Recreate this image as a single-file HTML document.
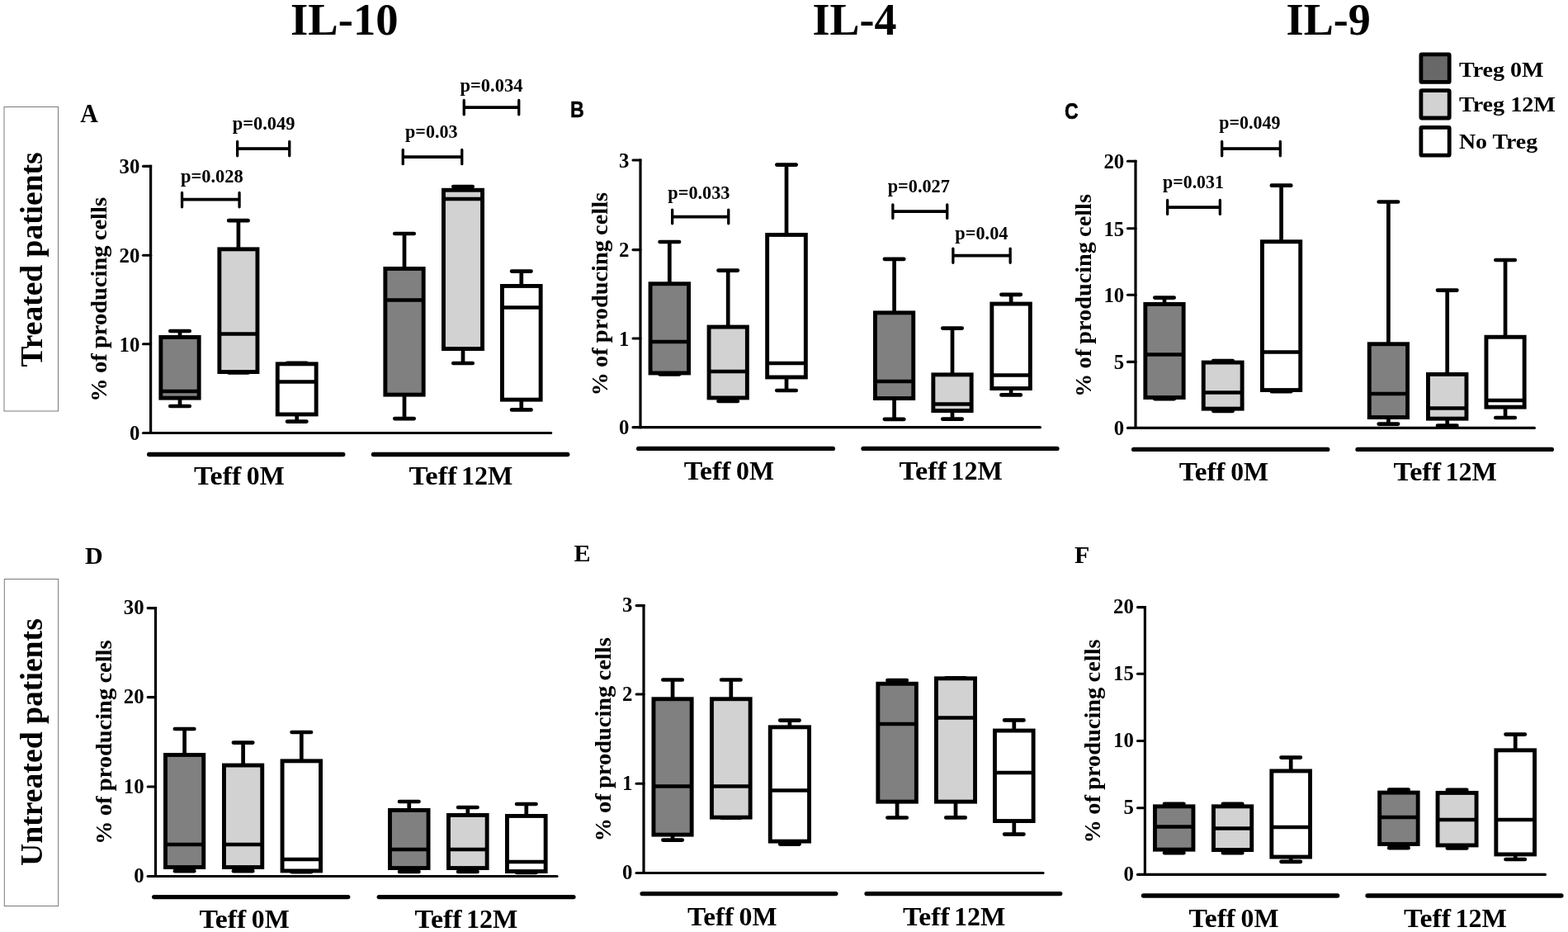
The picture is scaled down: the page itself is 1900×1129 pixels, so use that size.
<!DOCTYPE html>
<html lang="en"><head><meta charset="utf-8"><title>Cytokine producing cells - boxplots</title>
<style>
html,body{margin:0;padding:0;background:#fff;}
body{width:1900px;height:1129px;overflow:hidden;}
svg{display:block;}
.s{font-family:"Liberation Serif", "DejaVu Serif", serif;font-weight:bold;fill:#000;}
.tl{font-family:"Liberation Serif", "DejaVu Serif", serif;font-weight:bold;fill:#000;}
.sa{font-family:"Liberation Sans", "DejaVu Sans", sans-serif;font-weight:bold;fill:#000;}
.b{stroke:#000;stroke-width:4.9;stroke-linejoin:miter;}
.w{stroke:#000;stroke-width:4.7;stroke-linecap:round;fill:none;}
.m{stroke:#000;stroke-width:4.5;fill:none;}
.ax{stroke:#000;stroke-width:3.2;fill:none;}
.tk{stroke:#000;stroke-width:3.1;fill:none;stroke-linecap:round;}
.g{stroke:#000;stroke-width:5.4;stroke-linecap:round;fill:none;}
.p{stroke:#000;stroke-width:3.3;stroke-linecap:round;fill:none;}
.ph{stroke:#000;stroke-width:3.8;fill:none;}
</style></head><body>
<svg width="1900" height="1129" viewBox="0 0 1900 1129">
<rect x="0" y="0" width="1900" height="1129" fill="#fff"/>
<text x="352" y="42" class="s" font-size="55" textLength="130.5" lengthAdjust="spacingAndGlyphs">IL-10</text>
<text x="984.6" y="42" class="s" font-size="55" textLength="101.9" lengthAdjust="spacingAndGlyphs">IL-4</text>
<text x="1558.6" y="42" class="s" font-size="55" textLength="102.3" lengthAdjust="spacingAndGlyphs">IL-9</text>
<rect x="5" y="129.5" width="65.5" height="368.5" fill="#fff" stroke="#7a7a7a" stroke-width="1"/>
<rect x="5.3" y="701.5" width="65.3" height="396" fill="#fff" stroke="#7a7a7a" stroke-width="1"/>
<text transform="translate(51 444.4) rotate(-90)" class="s" font-size="38" textLength="260" lengthAdjust="spacingAndGlyphs">Treated patients</text>
<text transform="translate(51 1049) rotate(-90)" class="s" font-size="38" textLength="299.8" lengthAdjust="spacingAndGlyphs">Untreated patients</text>
<text x="97.2" y="147.6" class="s" font-size="31" textLength="21.6" lengthAdjust="spacingAndGlyphs">A</text>
<text x="103" y="682.6" class="s" font-size="30">D</text>
<text x="695.4" y="680.2" class="s" font-size="30">E</text>
<text x="1302" y="682" class="s" font-size="30">F</text>
<text transform="translate(690.9 142.4) scale(0.86 1)" class="sa" font-size="27" stroke="#000" stroke-width="0.5">B</text>
<text transform="translate(1290 144.2) scale(0.86 1)" class="sa" font-size="27" stroke="#000" stroke-width="0.5">C</text>
<rect x="1721.9" y="65.9" width="34.3" height="33.5" rx="1" fill="#686868" stroke="#000" stroke-width="4.8" stroke-linejoin="round"/>
<rect x="1721.9" y="109.7" width="34.3" height="33.3" rx="1" fill="#d2d2d2" stroke="#000" stroke-width="4.8" stroke-linejoin="round"/>
<rect x="1721.9" y="154.3" width="34.3" height="33.9" rx="1" fill="#ffffff" stroke="#000" stroke-width="4.8" stroke-linejoin="round"/>
<text x="1768" y="92.6" class="s" font-size="26" textLength="102.6" lengthAdjust="spacingAndGlyphs">Treg 0M</text>
<text x="1768" y="134.7" class="s" font-size="26" textLength="116.8" lengthAdjust="spacingAndGlyphs">Treg 12M</text>
<text x="1768" y="180" class="s" font-size="26" textLength="95.1" lengthAdjust="spacingAndGlyphs">No Treg</text>
<path d="M182.6 199.85V526.1" class="ax"/>
<path d="M173.5 524.5H667.7" class="ax" stroke-linecap="round"/>
<path d="M173.5 201.4H182.6" class="tk"/>
<path d="M173.5 309.3H182.6" class="tk"/>
<path d="M173.5 416.8H182.6" class="tk"/>
<text x="169.35" y="210.1" class="tl" font-size="24.3" text-anchor="end" textLength="24.8" lengthAdjust="spacingAndGlyphs">30</text>
<text x="169.35" y="318" class="tl" font-size="24.3" text-anchor="end" textLength="24.8" lengthAdjust="spacingAndGlyphs">20</text>
<text x="169.35" y="425.5" class="tl" font-size="24.3" text-anchor="end" textLength="24.8" lengthAdjust="spacingAndGlyphs">10</text>
<text x="169.35" y="533.2" class="tl" font-size="24.3" text-anchor="end" textLength="12.4" lengthAdjust="spacingAndGlyphs">0</text>
<text transform="translate(128.8 486.8) rotate(-90)" class="s" font-size="26.6" word-spacing="-0.8" textLength="247.8" lengthAdjust="spacingAndGlyphs">% of producing cells</text>
<path d="M218 401V492 M206.3 401H229.7 M206.3 492H229.7" class="w"/>
<rect x="194.85" y="408.45" width="46.3" height="73.7" fill="#808080" class="b"/>
<path d="M194.85 474H241.15" class="m"/>
<path d="M288.9 267.2V451.5 M277.2 267.2H300.6 M277.2 451.5H300.6" class="w"/>
<rect x="265.85" y="301.85" width="46.1" height="148.7" fill="#d2d2d2" class="b"/>
<path d="M265.85 404.4H311.95" class="m"/>
<path d="M359.7 439.8V510.6 M348 439.8H371.4 M348 510.6H371.4" class="w"/>
<rect x="336.25" y="440.85" width="46.9" height="61.1" fill="#ffffff" class="b"/>
<path d="M336.25 462.6H383.15" class="m"/>
<path d="M490 283V507.1 M478.3 283H501.7 M478.3 507.1H501.7" class="w"/>
<rect x="466.85" y="325.45" width="46.3" height="152.7" fill="#808080" class="b"/>
<path d="M466.85 363.6H513.15" class="m"/>
<path d="M561 226V440 M549.3 226H572.7 M549.3 440H572.7" class="w"/>
<rect x="537.45" y="230.25" width="47.1" height="192.3" fill="#d2d2d2" class="b"/>
<path d="M537.45 241H584.55" class="m"/>
<path d="M631.8 328.6V496.4 M620.1 328.6H643.5 M620.1 496.4H643.5" class="w"/>
<rect x="608.45" y="346.45" width="46.7" height="137.7" fill="#ffffff" class="b"/>
<path d="M608.45 372.4H655.15" class="m"/>
<path d="M180.7 550.5H415.7" class="g"/>
<path d="M452.5 550.5H687.7" class="g"/>
<text y="587.4" class="s" font-size="31.3"><tspan x="235" textLength="57.3" lengthAdjust="spacingAndGlyphs">Teff</tspan> <tspan x="298.8" textLength="45.9" lengthAdjust="spacingAndGlyphs">0M</tspan></text>
<text y="587.4" class="s" font-size="31.3"><tspan x="495.4" textLength="58.3" lengthAdjust="spacingAndGlyphs">Teff</tspan> <tspan x="559" textLength="62.4" lengthAdjust="spacingAndGlyphs">12M</tspan></text>
<text x="219" y="220.6" class="s" font-size="23.4" textLength="75.8" lengthAdjust="spacingAndGlyphs">p=0.028</text>
<path d="M220.55 233.45V250.85 M290.05 233.45V250.85" class="p"/>
<path d="M220.55 241.6H290.05" class="ph"/>
<text x="281.7" y="157.4" class="s" font-size="23.4" textLength="75.8" lengthAdjust="spacingAndGlyphs">p=0.049</text>
<path d="M287.65 171.45V188.85 M350.75 171.45V188.85" class="p"/>
<path d="M287.65 180.1H350.75" class="ph"/>
<text x="491.1" y="167" class="s" font-size="23.4" textLength="63.4" lengthAdjust="spacingAndGlyphs">p=0.03</text>
<path d="M488.25 181.45V198.65 M559.75 181.45V198.65" class="p"/>
<path d="M488.25 190.1H559.75" class="ph"/>
<text x="557.5" y="110.6" class="s" font-size="23.4" textLength="75.9" lengthAdjust="spacingAndGlyphs">p=0.034</text>
<path d="M562.25 121.45V138.85 M628.75 121.45V138.85" class="p"/>
<path d="M562.25 130.1H628.75" class="ph"/>
<path d="M776 192.45V519.3" class="ax"/>
<path d="M767 517.7H1260.4" class="ax" stroke-linecap="round"/>
<path d="M767 194H776" class="tk"/>
<path d="M767 302.6H776" class="tk"/>
<path d="M767 410H776" class="tk"/>
<text x="762.5" y="202.7" class="tl" font-size="24.3" text-anchor="end" textLength="12.4" lengthAdjust="spacingAndGlyphs">3</text>
<text x="762.5" y="311.3" class="tl" font-size="24.3" text-anchor="end" textLength="12.4" lengthAdjust="spacingAndGlyphs">2</text>
<text x="762.5" y="418.7" class="tl" font-size="24.3" text-anchor="end" textLength="12.4" lengthAdjust="spacingAndGlyphs">1</text>
<text x="762.5" y="526.4" class="tl" font-size="24.3" text-anchor="end" textLength="12.4" lengthAdjust="spacingAndGlyphs">0</text>
<text transform="translate(735.9 479.6) rotate(-90)" class="s" font-size="26.6" word-spacing="-0.8" textLength="246.7" lengthAdjust="spacingAndGlyphs">% of producing cells</text>
<path d="M811.3 293V453.4 M799.6 293H823 M799.6 453.4H823" class="w"/>
<rect x="788.05" y="343.75" width="46.5" height="108.2" fill="#808080" class="b"/>
<path d="M788.05 414H834.55" class="m"/>
<path d="M882.2 327.6V486 M870.5 327.6H893.9 M870.5 486H893.9" class="w"/>
<rect x="859.05" y="396.05" width="46.3" height="85.9" fill="#d2d2d2" class="b"/>
<path d="M859.05 450H905.35" class="m"/>
<path d="M953 199.6V473 M941.3 199.6H964.7 M941.3 473H964.7" class="w"/>
<rect x="929.65" y="284.45" width="46.7" height="172.5" fill="#ffffff" class="b"/>
<path d="M929.65 440H976.35" class="m"/>
<path d="M1083.6 313.8V507.8 M1071.9 313.8H1095.3 M1071.9 507.8H1095.3" class="w"/>
<rect x="1060.45" y="378.85" width="46.3" height="103.7" fill="#808080" class="b"/>
<path d="M1060.45 462H1106.75" class="m"/>
<path d="M1154 397.6V507.6 M1142.3 397.6H1165.7 M1142.3 507.6H1165.7" class="w"/>
<rect x="1130.85" y="453.85" width="46.3" height="43.7" fill="#d2d2d2" class="b"/>
<path d="M1130.85 489.4H1177.15" class="m"/>
<path d="M1225.1 356.8V478.4 M1213.4 356.8H1236.8 M1213.4 478.4H1236.8" class="w"/>
<rect x="1201.85" y="368.05" width="46.5" height="102.5" fill="#ffffff" class="b"/>
<path d="M1201.85 454.4H1248.35" class="m"/>
<path d="M773.7 543.4H1009.3" class="g"/>
<path d="M1046.1 543.4H1280.9" class="g"/>
<text y="581.4" class="s" font-size="31.3"><tspan x="828.7" textLength="56.9" lengthAdjust="spacingAndGlyphs">Teff</tspan> <tspan x="892.1" textLength="45.9" lengthAdjust="spacingAndGlyphs">0M</tspan></text>
<text y="581.4" class="s" font-size="31.3"><tspan x="1089.4" textLength="57.7" lengthAdjust="spacingAndGlyphs">Teff</tspan> <tspan x="1152.4" textLength="62.4" lengthAdjust="spacingAndGlyphs">12M</tspan></text>
<text x="809.3" y="241.4" class="s" font-size="23.4" textLength="75.2" lengthAdjust="spacingAndGlyphs">p=0.033</text>
<path d="M814.65 254.05V270.85 M882.75 254.05V270.85" class="p"/>
<path d="M814.65 262.7H882.75" class="ph"/>
<text x="1075.7" y="233.4" class="s" font-size="23.4" textLength="75.2" lengthAdjust="spacingAndGlyphs">p=0.027</text>
<path d="M1081.85 247.85V264.45 M1147.75 247.85V264.45" class="p"/>
<path d="M1081.85 256.1H1147.75" class="ph"/>
<text x="1157.3" y="290" class="s" font-size="23.4" textLength="64.2" lengthAdjust="spacingAndGlyphs">p=0.04</text>
<path d="M1154.85 301.05V318.25 M1224.15 301.05V318.25" class="p"/>
<path d="M1154.85 309.7H1224.15" class="ph"/>
<path d="M1376 193.75V520" class="ax"/>
<path d="M1366.5 518.4H1859.4" class="ax" stroke-linecap="round"/>
<path d="M1366.5 195.3H1376" class="tk"/>
<path d="M1366.5 276.8H1376" class="tk"/>
<path d="M1366.5 357.3H1376" class="tk"/>
<path d="M1366.5 438.4H1376" class="tk"/>
<text x="1362.2" y="204" class="tl" font-size="24.3" text-anchor="end" textLength="24.8" lengthAdjust="spacingAndGlyphs">20</text>
<text x="1362.2" y="285.5" class="tl" font-size="24.3" text-anchor="end" textLength="24.8" lengthAdjust="spacingAndGlyphs">15</text>
<text x="1362.2" y="366" class="tl" font-size="24.3" text-anchor="end" textLength="24.8" lengthAdjust="spacingAndGlyphs">10</text>
<text x="1362.2" y="447.1" class="tl" font-size="24.3" text-anchor="end" textLength="12.4" lengthAdjust="spacingAndGlyphs">5</text>
<text x="1362.2" y="527.1" class="tl" font-size="24.3" text-anchor="end" textLength="12.4" lengthAdjust="spacingAndGlyphs">0</text>
<text transform="translate(1321.8 480.9) rotate(-90)" class="s" font-size="26.6" word-spacing="-0.8" textLength="245.8" lengthAdjust="spacingAndGlyphs">% of producing cells</text>
<path d="M1411 360.6V483.2 M1399.3 360.6H1422.7 M1399.3 483.2H1422.7" class="w"/>
<rect x="1387.85" y="368.45" width="46.3" height="113.1" fill="#808080" class="b"/>
<path d="M1387.85 429.6H1434.15" class="m"/>
<path d="M1482 437V497.8 M1470.3 437H1493.7 M1470.3 497.8H1493.7" class="w"/>
<rect x="1458.25" y="439.05" width="46.9" height="56.1" fill="#d2d2d2" class="b"/>
<path d="M1458.25 475.4H1505.15" class="m"/>
<path d="M1552.6 224.7V474.2 M1540.9 224.7H1564.3 M1540.9 474.2H1564.3" class="w"/>
<rect x="1529.45" y="292.75" width="46.3" height="179.8" fill="#ffffff" class="b"/>
<path d="M1529.45 426.6H1575.75" class="m"/>
<path d="M1682.4 244.5V513.6 M1670.7 244.5H1694.1 M1670.7 513.6H1694.1" class="w"/>
<rect x="1659.25" y="416.75" width="46.3" height="88.8" fill="#808080" class="b"/>
<path d="M1659.25 477H1705.55" class="m"/>
<path d="M1753.7 351.6V515.6 M1742 351.6H1765.4 M1742 515.6H1765.4" class="w"/>
<rect x="1730.45" y="453.45" width="46.5" height="53.7" fill="#d2d2d2" class="b"/>
<path d="M1730.45 494.4H1776.95" class="m"/>
<path d="M1824.05 315V506 M1812.35 315H1835.75 M1812.35 506H1835.75" class="w"/>
<rect x="1800.95" y="408.25" width="46.2" height="84.9" fill="#ffffff" class="b"/>
<path d="M1800.95 485H1847.15" class="m"/>
<path d="M1373.7 544.4H1608.7" class="g"/>
<path d="M1645.1 544.4H1880.3" class="g"/>
<text y="582.4" class="s" font-size="31.3"><tspan x="1428.7" textLength="56" lengthAdjust="spacingAndGlyphs">Teff</tspan> <tspan x="1491.2" textLength="45.9" lengthAdjust="spacingAndGlyphs">0M</tspan></text>
<text y="582.4" class="s" font-size="31.3"><tspan x="1688.6" textLength="57.5" lengthAdjust="spacingAndGlyphs">Teff</tspan> <tspan x="1751.4" textLength="62.4" lengthAdjust="spacingAndGlyphs">12M</tspan></text>
<text x="1409.1" y="228.4" class="s" font-size="23.4" textLength="73.8" lengthAdjust="spacingAndGlyphs">p=0.031</text>
<path d="M1414.65 242.45V259.45 M1478.35 242.45V259.45" class="p"/>
<path d="M1414.65 251.1H1478.35" class="ph"/>
<text x="1477.3" y="156" class="s" font-size="23.4" textLength="74.2" lengthAdjust="spacingAndGlyphs">p=0.049</text>
<path d="M1480.65 171.45V188.85 M1551.35 171.45V188.85" class="p"/>
<path d="M1480.65 180.1H1551.35" class="ph"/>
<path d="M188.5 735.05V1063.1" class="ax"/>
<path d="M179.15 1061.5H675" class="ax" stroke-linecap="round"/>
<path d="M179.15 736.6H188.5" class="tk"/>
<path d="M179.15 844.6H188.5" class="tk"/>
<path d="M179.15 953H188.5" class="tk"/>
<text x="174.55" y="744.1" class="tl" font-size="24.3" text-anchor="end" textLength="24.8" lengthAdjust="spacingAndGlyphs">30</text>
<text x="174.55" y="852.1" class="tl" font-size="24.3" text-anchor="end" textLength="24.8" lengthAdjust="spacingAndGlyphs">20</text>
<text x="174.55" y="960.5" class="tl" font-size="24.3" text-anchor="end" textLength="24.8" lengthAdjust="spacingAndGlyphs">10</text>
<text x="174.55" y="1069" class="tl" font-size="24.3" text-anchor="end" textLength="12.4" lengthAdjust="spacingAndGlyphs">0</text>
<text transform="translate(134.5 1023) rotate(-90)" class="s" font-size="26.6" word-spacing="-0.8" textLength="247.6" lengthAdjust="spacingAndGlyphs">% of producing cells</text>
<path d="M223.6 883V1055.2 M211.9 883H235.3 M211.9 1055.2H235.3" class="w"/>
<rect x="200.45" y="914.45" width="46.3" height="136.1" fill="#808080" class="b"/>
<path d="M200.45 1023H246.75" class="m"/>
<path d="M294.6 899.6V1055.2 M282.9 899.6H306.3 M282.9 1055.2H306.3" class="w"/>
<rect x="271.45" y="927.05" width="46.3" height="123.5" fill="#d2d2d2" class="b"/>
<path d="M271.45 1023H317.75" class="m"/>
<path d="M365.3 887V1056.2 M353.6 887H377 M353.6 1056.2H377" class="w"/>
<rect x="342.05" y="921.85" width="46.5" height="133.1" fill="#ffffff" class="b"/>
<path d="M342.05 1041H388.55" class="m"/>
<path d="M495.75 971V1056 M484.05 971H507.45 M484.05 1056H507.45" class="w"/>
<rect x="472.45" y="981.45" width="46.6" height="70.1" fill="#808080" class="b"/>
<path d="M472.45 1029H519.05" class="m"/>
<path d="M566.8 978V1056 M555.1 978H578.5 M555.1 1056H578.5" class="w"/>
<rect x="543.45" y="987.45" width="46.7" height="64.1" fill="#d2d2d2" class="b"/>
<path d="M543.45 1029H590.15" class="m"/>
<path d="M637.8 974V1057 M626.1 974H649.5 M626.1 1057H649.5" class="w"/>
<rect x="614.45" y="988.45" width="46.7" height="67.1" fill="#ffffff" class="b"/>
<path d="M614.45 1044H661.15" class="m"/>
<path d="M186.7 1086.6H421.7" class="g"/>
<path d="M459.3 1086.6H694.9" class="g"/>
<text y="1124.4" class="s" font-size="31.3"><tspan x="241.4" textLength="56.9" lengthAdjust="spacingAndGlyphs">Teff</tspan> <tspan x="304.8" textLength="45.9" lengthAdjust="spacingAndGlyphs">0M</tspan></text>
<text y="1124.4" class="s" font-size="31.3"><tspan x="502.4" textLength="57.3" lengthAdjust="spacingAndGlyphs">Teff</tspan> <tspan x="565" textLength="62.4" lengthAdjust="spacingAndGlyphs">12M</tspan></text>
<path d="M780 732.05V1059.1" class="ax"/>
<path d="M771.1 1057.5H1264" class="ax" stroke-linecap="round"/>
<path d="M771.1 733.6H780" class="tk"/>
<path d="M771.1 841H780" class="tk"/>
<path d="M771.1 949.2H780" class="tk"/>
<text x="766.4" y="741.1" class="tl" font-size="24.3" text-anchor="end" textLength="12.4" lengthAdjust="spacingAndGlyphs">3</text>
<text x="766.4" y="848.5" class="tl" font-size="24.3" text-anchor="end" textLength="12.4" lengthAdjust="spacingAndGlyphs">2</text>
<text x="766.4" y="956.7" class="tl" font-size="24.3" text-anchor="end" textLength="12.4" lengthAdjust="spacingAndGlyphs">1</text>
<text x="766.4" y="1065" class="tl" font-size="24.3" text-anchor="end" textLength="12.4" lengthAdjust="spacingAndGlyphs">0</text>
<text transform="translate(740.1 1019.6) rotate(-90)" class="s" font-size="26.6" word-spacing="-0.8" textLength="247.3" lengthAdjust="spacingAndGlyphs">% of producing cells</text>
<path d="M815.05 823.5V1017.6 M803.35 823.5H826.75 M803.35 1017.6H826.75" class="w"/>
<rect x="791.95" y="846.75" width="46.2" height="164.4" fill="#808080" class="b"/>
<path d="M791.95 952.4H838.15" class="m"/>
<path d="M885.8 823.5V990.6 M874.1 823.5H897.5 M874.1 990.6H897.5" class="w"/>
<rect x="862.45" y="846.75" width="46.7" height="143.4" fill="#d2d2d2" class="b"/>
<path d="M862.45 952.4H909.15" class="m"/>
<path d="M956.9 872.6V1022.6 M945.2 872.6H968.6 M945.2 1022.6H968.6" class="w"/>
<rect x="933.25" y="880.85" width="47.3" height="138.3" fill="#ffffff" class="b"/>
<path d="M933.25 957.6H980.55" class="m"/>
<path d="M1087.1 824.1V990.5 M1075.4 824.1H1098.8 M1075.4 990.5H1098.8" class="w"/>
<rect x="1063.85" y="828.25" width="46.5" height="142.9" fill="#808080" class="b"/>
<path d="M1063.85 877H1110.35" class="m"/>
<path d="M1158 821.4V990.4 M1146.3 821.4H1169.7 M1146.3 990.4H1169.7" class="w"/>
<rect x="1134.45" y="821.85" width="47.1" height="149.3" fill="#d2d2d2" class="b"/>
<path d="M1134.45 869.4H1181.55" class="m"/>
<path d="M1228.8 872.4V1010.6 M1217.1 872.4H1240.5 M1217.1 1010.6H1240.5" class="w"/>
<rect x="1205.45" y="885.05" width="46.7" height="109.5" fill="#ffffff" class="b"/>
<path d="M1205.45 936H1252.15" class="m"/>
<path d="M778.1 1082.6H1012.8" class="g"/>
<path d="M1050.1 1082.6H1284.7" class="g"/>
<text y="1120.8" class="s" font-size="31.3"><tspan x="833.1" textLength="56" lengthAdjust="spacingAndGlyphs">Teff</tspan> <tspan x="895.6" textLength="45.9" lengthAdjust="spacingAndGlyphs">0M</tspan></text>
<text y="1120.8" class="s" font-size="31.3"><tspan x="1094" textLength="56.6" lengthAdjust="spacingAndGlyphs">Teff</tspan> <tspan x="1155.9" textLength="62.4" lengthAdjust="spacingAndGlyphs">12M</tspan></text>
<path d="M1387.4 734.05V1061" class="ax"/>
<path d="M1378.5 1059.4H1872.4" class="ax" stroke-linecap="round"/>
<path d="M1378.5 735.6H1387.4" class="tk"/>
<path d="M1378.5 816.3H1387.4" class="tk"/>
<path d="M1378.5 897.5H1387.4" class="tk"/>
<path d="M1378.5 978.8H1387.4" class="tk"/>
<text x="1373.8" y="743.1" class="tl" font-size="24.3" text-anchor="end" textLength="24.8" lengthAdjust="spacingAndGlyphs">20</text>
<text x="1373.8" y="823.8" class="tl" font-size="24.3" text-anchor="end" textLength="24.8" lengthAdjust="spacingAndGlyphs">15</text>
<text x="1373.8" y="905" class="tl" font-size="24.3" text-anchor="end" textLength="24.8" lengthAdjust="spacingAndGlyphs">10</text>
<text x="1373.8" y="986.3" class="tl" font-size="24.3" text-anchor="end" textLength="12.4" lengthAdjust="spacingAndGlyphs">5</text>
<text x="1373.8" y="1066.9" class="tl" font-size="24.3" text-anchor="end" textLength="12.4" lengthAdjust="spacingAndGlyphs">0</text>
<text transform="translate(1333.3 1021.4) rotate(-90)" class="s" font-size="26.6" word-spacing="-0.8" textLength="247" lengthAdjust="spacingAndGlyphs">% of producing cells</text>
<path d="M1422.7 973.8V1033.2 M1411 973.8H1434.4 M1411 1033.2H1434.4" class="w"/>
<rect x="1399.45" y="976.85" width="46.5" height="52.3" fill="#808080" class="b"/>
<path d="M1399.45 1001.4H1445.95" class="m"/>
<path d="M1493.6 973.8V1033.2 M1481.9 973.8H1505.3 M1481.9 1033.2H1505.3" class="w"/>
<rect x="1470.45" y="976.85" width="46.3" height="52.7" fill="#d2d2d2" class="b"/>
<path d="M1470.45 1003.4H1516.75" class="m"/>
<path d="M1564.2 917.6V1043.8 M1552.5 917.6H1575.9 M1552.5 1043.8H1575.9" class="w"/>
<rect x="1540.85" y="933.95" width="46.7" height="104.1" fill="#ffffff" class="b"/>
<path d="M1540.85 1002H1587.55" class="m"/>
<path d="M1694.9 956.6V1027.2 M1683.2 956.6H1706.6 M1683.2 1027.2H1706.6" class="w"/>
<rect x="1671.65" y="960.15" width="46.5" height="62.4" fill="#808080" class="b"/>
<path d="M1671.65 990H1718.15" class="m"/>
<path d="M1765.55 956.8V1027.4 M1753.85 956.8H1777.25 M1753.85 1027.4H1777.25" class="w"/>
<rect x="1742.05" y="960.45" width="47" height="63.5" fill="#d2d2d2" class="b"/>
<path d="M1742.05 993H1789.05" class="m"/>
<path d="M1836.2 889.6V1041 M1824.5 889.6H1847.9 M1824.5 1041H1847.9" class="w"/>
<rect x="1812.85" y="908.85" width="46.7" height="126.1" fill="#ffffff" class="b"/>
<path d="M1812.85 993H1859.55" class="m"/>
<path d="M1385.5 1085H1620.6" class="g"/>
<path d="M1657.1 1085H1891.9" class="g"/>
<text y="1122.9" class="s" font-size="31.3"><tspan x="1440.4" textLength="56.7" lengthAdjust="spacingAndGlyphs">Teff</tspan> <tspan x="1503.6" textLength="45.9" lengthAdjust="spacingAndGlyphs">0M</tspan></text>
<text y="1122.9" class="s" font-size="31.3"><tspan x="1700.9" textLength="57.2" lengthAdjust="spacingAndGlyphs">Teff</tspan> <tspan x="1763.4" textLength="62.4" lengthAdjust="spacingAndGlyphs">12M</tspan></text>
</svg></body></html>
